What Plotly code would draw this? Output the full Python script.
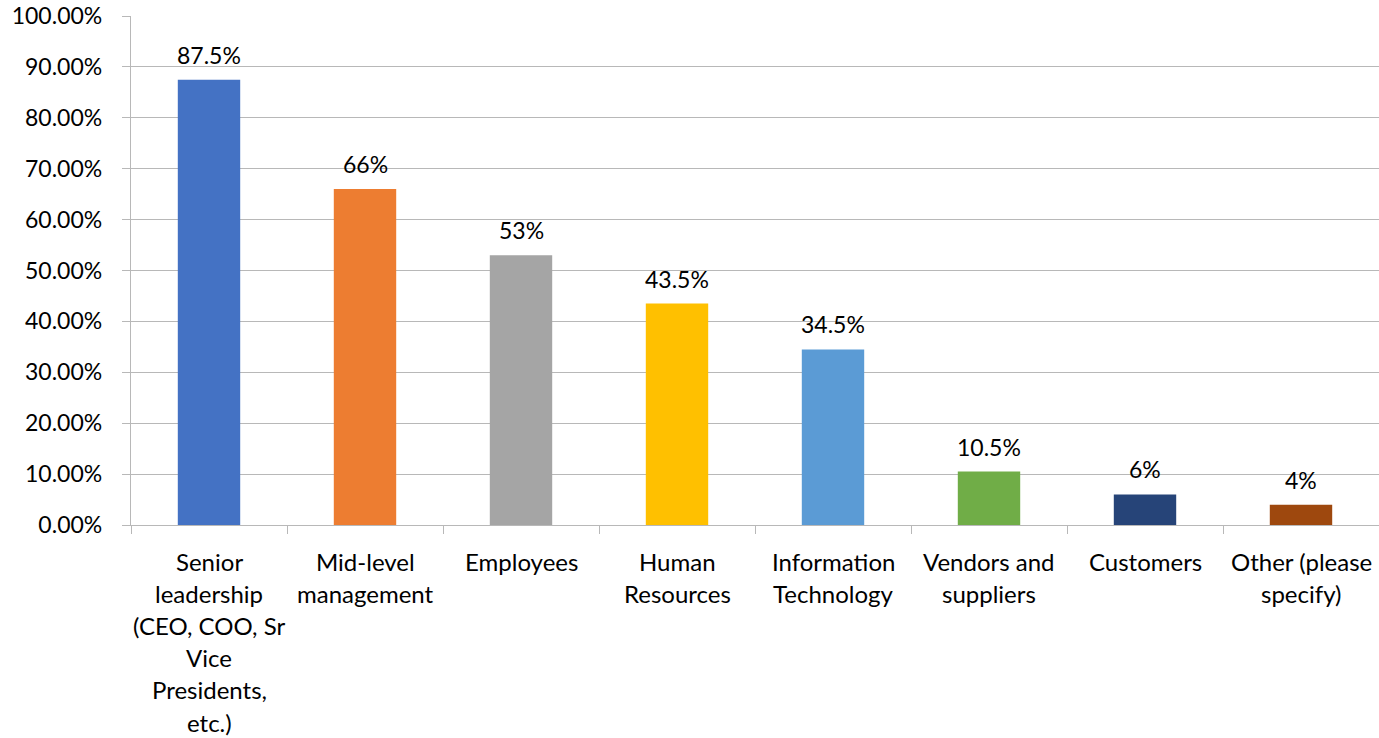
import plotly.graph_objects as go

# Survey responses: share of respondents per group
categories = [
    "Senior leadership (CEO, COO, Sr Vice Presidents, etc.)",
    "Mid-level management",
    "Employees",
    "Human Resources",
    "Information Technology",
    "Vendors and suppliers",
    "Customers",
    "Other (please specify)",
]
# Wrapped axis label lines for each category
label_lines = [
    ["Senior", "leadership", "(CEO, COO, Sr", "Vice", "Presidents,", "etc.)"],
    ["Mid-level", "management"],
    ["Employees"],
    ["Human", "Resources"],
    ["Information", "Technology"],
    ["Vendors and", "suppliers"],
    ["Customers"],
    ["Other (please", "specify)"],
]
values = [0.875, 0.66, 0.53, 0.435, 0.345, 0.105, 0.06, 0.04]
value_labels = ["87.5%", "66%", "53%", "43.5%", "34.5%", "10.5%", "6%", "4%"]
colors = ["#4472C4", "#ED7D31", "#A5A5A5", "#FFC000",
          "#5B9BD5", "#70AD47", "#264478", "#9E480E"]
y_ticks = [i / 10 for i in range(11)]

FONT = "Lato, 'Open Sans', sans-serif"
GRID = "#B8B8B8"
TEXT = "#000000"

fig = go.Figure(
    go.Bar(
        x=categories,
        y=values,
        marker=dict(color=colors, line=dict(width=0)),
        hoverinfo="skip",
    )
)

# Value labels above each bar
for cat, val, lab in zip(categories, values, value_labels):
    fig.add_annotation(
        x=cat, y=val, xref="x", yref="y", text=lab, showarrow=False,
        yanchor="middle", yshift=25,
        font=dict(family=FONT, size=23, color=TEXT),
    )

# Multi-line category labels under the axis
line_step = 32.2
for cat, lines in zip(categories, label_lines):
    for i, line in enumerate(lines):
        fig.add_annotation(
            x=cat, y=0, xref="x", yref="y", text=line, showarrow=False,
            yanchor="middle", yshift=-(36 + i * line_step), borderpad=0,
            font=dict(family=FONT, size=24, color=TEXT),
        )

fig.update_layout(
    width=1379, height=738,
    margin=dict(l=131, r=0, t=16, b=213),
    paper_bgcolor="white", plot_bgcolor="white",
    bargap=0.6,
    showlegend=False,
    font=dict(family=FONT, size=23, color=TEXT),
)
fig.update_xaxes(
    type="category",
    showticklabels=False,
    showline=True, linecolor=GRID, linewidth=1.3,
    ticks="outside", tickson="boundaries", ticklen=8, tickcolor=GRID, tickwidth=1.3,
    showgrid=False,
)
fig.update_yaxes(
    range=[0, 1],
    tickvals=y_ticks,
    tickformat=".2%",
    showline=True, linecolor=GRID, linewidth=1.3,
    ticks="outside", ticklen=8, tickcolor=GRID, tickwidth=1.3,
    ticklabelstandoff=15,
    showgrid=True, gridcolor=GRID, gridwidth=1.3,
    zeroline=False,
    tickfont=dict(family=FONT, size=23, color=TEXT),
)

fig.write_html("out.html")
